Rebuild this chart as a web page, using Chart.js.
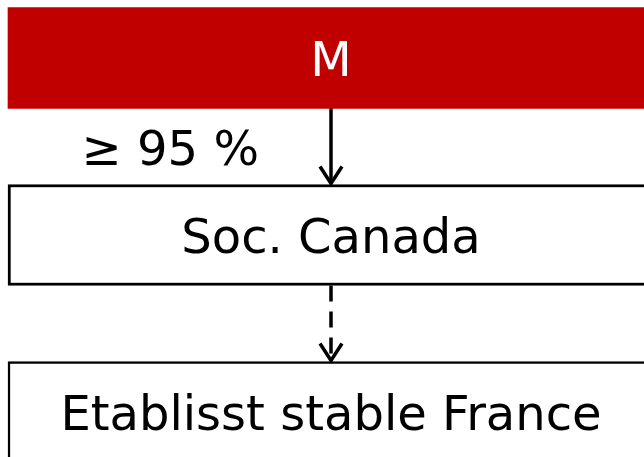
<!DOCTYPE html>
<html><head><meta charset="utf-8">
<script src="https://cdn.jsdelivr.net/npm/chart.js@4"></script>
<style>html,body{margin:0;padding:0;background:#fff}#wrap{width:644px;height:457px}</style>
</head><body><div id="wrap"><canvas id="c" width="644" height="457"></canvas></div>
<script>
// Entities of the structure chart (top to bottom)
const entities = ['M', 'Soc. Canada', 'Etablisst stable France'];
// Extent of each entity box along the value axis (full width)
const extents = [[0, 100], [0, 100], [0, 100]];
// Links between consecutive entities
const linkLabels = ['\u2265 95 %', ''];
const linkKinds = ['solid', 'dashed'];

const FONT = '48px "DejaVu Sans", Verdana, sans-serif';

const diagramPlugin = {
  id: 'diagram',
  afterDatasetsDraw(chart) {
    const ctx = chart.ctx;
    const meta = chart.getDatasetMeta(0);
    const xs = chart.scales.x;
    const cx = Math.round(xs.getPixelForValue(50));
    ctx.save();
    ctx.font = FONT;
    ctx.textAlign = 'center';
    ctx.textBaseline = 'middle';
    meta.data.forEach((bar, i) => {
      ctx.fillStyle = i === 0 ? '#ffffff' : '#000000';
      ctx.fillText(entities[i], cx, bar.y + 6);
    });
    for (let i = 0; i < linkKinds.length; i++) {
      const a = meta.data[i], b = meta.data[i + 1];
      const y0 = a.y + a.height / 2;
      const y1 = b.y - b.height / 2;
      ctx.strokeStyle = '#000';
      ctx.lineWidth = 3.5;
      ctx.lineCap = 'butt';
      ctx.setLineDash(linkKinds[i] === 'dashed' ? [16, 10] : []);
      ctx.beginPath();
      ctx.moveTo(cx, y0);
      ctx.lineTo(cx, y1 - 2);
      ctx.stroke();
      ctx.setLineDash([]);
      ctx.beginPath();
      ctx.moveTo(cx - 11, y1 - 18);
      ctx.lineTo(cx, y1 - 1);
      ctx.lineTo(cx + 11, y1 - 18);
      ctx.stroke();
      if (linkLabels[i]) {
        ctx.fillStyle = '#000';
        ctx.textAlign = 'right';
        ctx.fillText(linkLabels[i], cx - 72, (y0 + y1) / 2 + 6);
        ctx.textAlign = 'center';
      }
    }
    ctx.restore();
  }
};

new Chart(document.getElementById('c'), {
  type: 'bar',
  data: {
    labels: entities,
    datasets: [{
      data: extents,
      backgroundColor: ['#C00000', '#ffffff', '#ffffff'],
      borderColor: ['#C00000', '#000000', '#000000'],
      borderWidth: [0, 3, 2.5],
      borderSkipped: false,
      barThickness: 101,
      clip: false
    }]
  },
  options: {
    indexAxis: 'y',
    responsive: false,
    animation: false,
    layout: { padding: { left: 8, right: 0, top: 58, bottom: 45 } },
    plugins: { legend: { display: false }, tooltip: { enabled: false } },
    scales: {
      x: { type: 'linear', min: 0, max: 98.6, display: false },
      y: { type: 'category', offset: false, display: false }
    }
  },
  plugins: [diagramPlugin]
});
</script>
</body></html>
